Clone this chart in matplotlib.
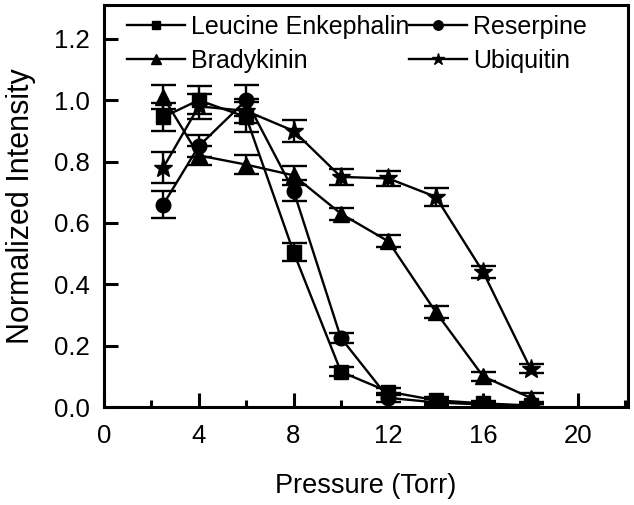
import numpy as np
import matplotlib.pyplot as plt
from matplotlib.ticker import MultipleLocator
from matplotlib.lines import Line2D

plt.rcParams['font.family'] = ['Liberation Sans', 'DejaVu Sans']

pressure = [2.5, 4, 6, 8, 10, 12, 14, 16, 18]

leu_enk = [0.945, 1.0, 0.945, 0.505, 0.115, 0.05, 0.022, 0.012, 0.005]
leu_enk_err = [0.045, 0.045, 0.05, 0.03, 0.015, 0.012, 0.01, 0.008, 0.006]

reserpine = [0.66, 0.85, 1.0, 0.705, 0.225, 0.03, 0.015, 0.008, 0.003]
reserpine_err = [0.045, 0.035, 0.05, 0.035, 0.015, 0.015, 0.01, 0.008, 0.006]

bradykinin = [1.01, 0.82, 0.79, 0.755, 0.63, 0.54, 0.31, 0.10, 0.03]
bradykinin_err = [0.04, 0.03, 0.03, 0.03, 0.02, 0.02, 0.02, 0.015, 0.015]

ubiquitin = [0.78, 0.98, 0.965, 0.90, 0.75, 0.745, 0.685, 0.44, 0.125]
ubiquitin_err = [0.05, 0.04, 0.04, 0.035, 0.025, 0.025, 0.03, 0.02, 0.015]

fig = plt.figure(figsize=(6.34, 5.05), dpi=100)
ax = fig.add_axes([0.164, 0.194, 0.826, 0.796])

# legend order: column-first, so LE / Reserpine sit on the top row
series = [
    ('Leucine Enkephalin', leu_enk, leu_enk_err, 's', 9.5),
    ('Bradykinin', bradykinin, bradykinin_err, '^', 11.5),
    ('Reserpine', reserpine, reserpine_err, 'o', 10.5),
    ('Ubiquitin', ubiquitin, ubiquitin_err, '*', 14),
]

handles = []
for name, y, err, mk, ms in series:
    ax.errorbar(pressure, y, yerr=err, color='black', marker=mk, markersize=ms,
                linewidth=1.7, elinewidth=1.7, capsize=9, capthick=1.7)
    handles.append(Line2D([], [], color='black', marker=mk, markersize=ms * 0.65,
                          linewidth=1.7, label=name))

ax.set_xlim(0, 22.1)
ax.set_ylim(0, 1.31)
ax.xaxis.set_major_locator(MultipleLocator(4))
ax.xaxis.set_minor_locator(MultipleLocator(2))
ax.yaxis.set_major_locator(MultipleLocator(0.2))
ax.yaxis.set_major_formatter(plt.FormatStrFormatter('%.1f'))
ax.tick_params(axis='x', which='major', pad=12)
ax.tick_params(axis='y', which='major', pad=10)
ax.tick_params(which='major', direction='in', length=10, width=2.2, labelsize=18.5)
ax.tick_params(which='minor', direction='in', length=5, width=2.2)
for s in ax.spines.values():
    s.set_linewidth(2.2)

ax.set_xlabel('Pressure (Torr)', fontsize=19.5, labelpad=18)
ax.set_ylabel('Normalized Intensity', fontsize=22, labelpad=13)

ax.legend(handles=handles, ncol=2, loc='upper left', frameon=False,
          fontsize=18, handlelength=2.3, handletextpad=0.25, columnspacing=0.0,
          borderaxespad=0.0, labelspacing=0.4, bbox_to_anchor=(0.025, 1.0))

fig.savefig('out.png', dpi=100)
